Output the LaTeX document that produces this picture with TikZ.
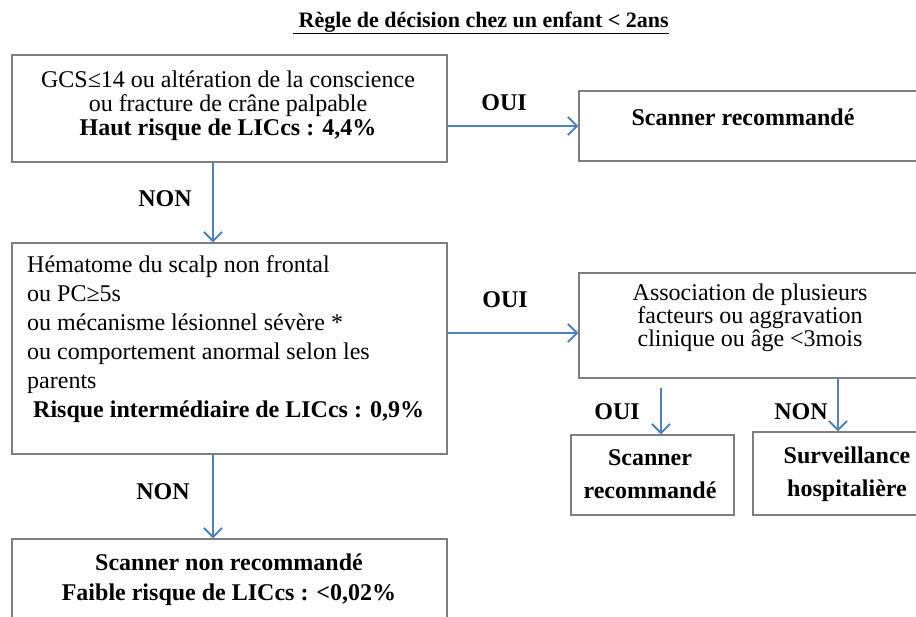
\documentclass[tikz,border=0pt]{standalone}
\usepackage{fontspec}
\setmainfont{Liberation Serif}
\usetikzlibrary{arrows.meta}

\definecolor{cadre}{HTML}{7F7F7F}
\definecolor{fleche}{HTML}{4F81BD}

\tikzset{
  boite/.style={draw=cadre, line width=1.3pt, inner sep=0pt},
  texte/.style={inner sep=0pt, font=\fontsize{24}{24}\selectfont},
  reponse/.style={inner sep=0pt, font=\fontsize{24}{24}\selectfont\bfseries},
  lien/.style={draw=fleche, line width=1.6pt,
    -{Straight Barb[length=9pt,width=18pt,line width=2pt]}},
}

\begin{document}
\begin{tikzpicture}[x=1pt,y=-1pt]
\useasboundingbox (0,0) rectangle (916,617);
\clip (0,0) rectangle (916,617);
%\draw[help lines] (0,0) grid[step=50] (916,617);
\node[font=\fontsize{22}{22}\selectfont\bfseries] (titre) at (481,23)
  {\underline{\ Règle de décision chez un enfant < 2ans}};
% colonne de gauche
\node[boite, minimum width=435pt, minimum height=107pt] (haut) at (229.5,108.5) {};
\node[boite, minimum width=435pt, minimum height=211pt] (inter) at (229.5,348.5) {};
\node[boite, minimum width=435pt, minimum height=81pt] (bas) at (229.5,579.5) {}; % bas coupé
\node[texte, align=center] (hautT) at (228,106)
  {GCS≤14 ou altération de la conscience\\ ou fracture de crâne palpable\\
   \textbf{Haut risque de LICcs : 4,4\%}};
\node[texte, font=\fontsize{24}{29}\selectfont, align=left, anchor=north west] (interT) at (27,255)
  {Hématome du scalp non frontal\\ ou PC≥5s\\ ou mécanisme lésionnel sévère *\\
   ou comportement anormal selon les\\ parents\\
   \textbf{\ Risque intermédiaire de LICcs : 0,9\%}};
\node[reponse, font=\fontsize{24}{30}\selectfont\bfseries, align=center] (basT) at (229,580)
  {Scanner non recommandé\\ Faible risque de LICcs : <0,02\%};
% colonne de droite
\node[boite, minimum width=351pt, minimum height=70pt] (scan1) at (754.5,126) {};
\node[boite, minimum width=351pt, minimum height=105pt] (assoc) at (754.5,325.5) {};
\node[boite, minimum width=163pt, minimum height=80pt] (scan2) at (652.5,475) {};
\node[boite, minimum width=177pt, minimum height=83pt] (surv) at (841.5,473.5) {};
\node[reponse] (scan1T) at (743,117) {Scanner recommandé};
\node[texte, font=\fontsize{24}{23}\selectfont, align=center] (assocT) at (750,318)
  {Association de plusieurs\\ facteurs ou aggravation\\ clinique ou âge <3mois};
\node[reponse, font=\fontsize{24}{33}\selectfont\bfseries, align=center] (scan2T) at (650,474)
  {Scanner\\ recommandé};
\node[reponse, font=\fontsize{24}{33}\selectfont\bfseries, align=center] (survT) at (847,474)
  {Surveillance\\ hospitalière};
% fleches
\coordinate (axe) at (213,0);
\coordinate (pointe) at ([yshift=-7.5pt]assoc.west);
\coordinate (gauche) at (661,388);
\coordinate (droite) at (838,0);
\draw[lien] (haut.south -| axe) -- (inter.north -| axe);
\draw[lien] (inter.south -| axe) -- (bas.north -| axe);
\draw[lien] (haut.east |- scan1.west) -- (scan1.west);
\draw[lien] (inter.east |- pointe) -- (pointe);
\draw[lien] (gauche) -- (scan2.north -| gauche);
\draw[lien] (assoc.south -| droite) -- (surv.north -| droite);
% reponses
\node[reponse] (non1) at (165,199) {NON};
\node[reponse] (non2) at (163,492) {NON};
\node[reponse] (oui1) at (504,103) {OUI};
\node[reponse] (oui2) at (505,300) {OUI};
\node[reponse] (oui3) at (617,412) {OUI};
\node[reponse] (non3) at (801,412) {NON};
\end{tikzpicture}
\end{document}
